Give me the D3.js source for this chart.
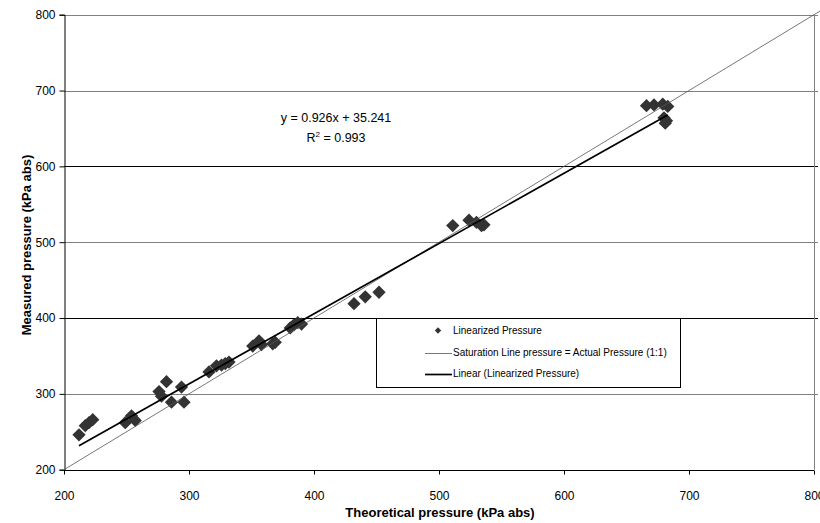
<!DOCTYPE html>
<html>
<head>
<meta charset="utf-8">
<script src="https://cdn.jsdelivr.net/npm/d3@7"></script>
<style>
  body { margin: 0; background: #fff; }
  svg text { font-family: "Liberation Sans", Arial, sans-serif; fill: #000; }
</style>
</head>
<body>
<div id="chart"></div>
<script>
// theoretical vs measured pressure (kPa abs)
var theoretical = [212, 217, 220, 223, 249, 254, 257, 276, 278, 282, 286, 294, 296,
  316, 322, 326, 329, 332, 351, 356, 358, 367, 369, 381, 384, 387, 390,
  432, 441, 452, 511, 524, 530, 534, 536, 666, 672, 679, 683, 680, 682, 681];
var measured = [246, 258, 262, 266, 262, 271, 265, 303, 297, 316, 289, 309, 289,
  329, 337, 338, 340, 342, 363, 370, 365, 366, 368, 387, 391, 394, 392,
  419, 428, 434, 522, 529, 526, 522, 523, 680, 681, 682, 679, 664, 660, 657];

var xTicks = [200, 300, 400, 500, 600, 700, 800];
var yTicks = [200, 300, 400, 500, 600, 700, 800];
var slope = 0.926, intercept = 35.241;
var legendLabels = ["Linearized Pressure",
  "Saturation Line pressure = Actual Pressure (1:1)",
  "Linear (Linearized Pressure)"];

var points = theoretical.map((t, i) => ({x: t, y: measured[i]}));

let svg = d3.select("#chart")
            .append("svg")
            .attr("width", 820)
            .attr("height", 523);

let x = d3.scaleLinear().domain([200, 800]).range([64, 814]);
let y = d3.scaleLinear().domain([200, 800]).range([469.7, 14.7]);

// horizontal gridlines (alternate grey/black like the original render)
svg.append("g")
  .selectAll("line")
  .data(yTicks.filter(d => d > 200))
  .enter()
  .append("line")
  .attr("x1", x(200))
  .attr("x2", 818)
  .attr("y1", d => Math.round(y(d)) + 0.5)
  .attr("y2", d => Math.round(y(d)) + 0.5)
  .style("stroke", d => (d === 400 || d === 600) ? "#000" : "#808080")
  .style("stroke-width", 1);

// right edge of plot area
svg.append("line")
  .attr("x1", x(800) + 0.5).attr("x2", x(800) + 0.5)
  .attr("y1", y(800)).attr("y2", y(200))
  .style("stroke", "#808080");

// axes
let xAxis = d3.axisBottom(x).tickValues(xTicks).tickSize(4).tickPadding(17);
let yAxis = d3.axisLeft(y).tickValues(yTicks).tickSize(5).tickPadding(4);

let gx = svg.append("g")
  .attr("transform", "translate(0," + (Math.round(y(200)) + 0.5) + ")")
  .call(xAxis);
gx.select(".domain").attr("d", "M" + x(200) + ",0H" + x(800));
gx.selectAll("text").style("font-size", "12px");

let gy = svg.append("g")
  .attr("transform", "translate(" + (x(200) + 0.5) + ",0)")
  .call(yAxis);
gy.selectAll("text").style("font-size", "12px");

svg.selectAll(".domain, .tick line").style("stroke", "#000");

// data points (diamonds)
let diamond = d3.symbol().type(d3.symbolSquare).size(88);
svg.append("g")
  .selectAll("path")
  .data(points)
  .enter()
  .append("path")
  .attr("d", diamond)
  .attr("transform", d => "translate(" + x(d.x) + "," + y(d.y) + ") rotate(45)")
  .style("fill", "#333");

// 1:1 saturation line
svg.append("line")
  .attr("x1", x(200)).attr("y1", y(200))
  .attr("x2", x(806)).attr("y2", y(806))
  .style("stroke", "#555")
  .style("stroke-width", 0.8);

// linear trendline
let xs = d3.extent(theoretical);
let line = d3.line().x(d => x(d)).y(d => y(slope * d + intercept));
svg.append("path")
  .datum(xs)
  .attr("d", line)
  .style("fill", "none")
  .style("stroke", "#000")
  .style("stroke-width", 1.7);

// equation
svg.append("text")
  .attr("x", 336)
  .attr("y", 121.5)
  .attr("text-anchor", "middle")
  .style("font-size", "12.5px")
  .text("y = " + slope + "x + " + intercept);
let r2 = svg.append("text")
  .attr("x", 336)
  .attr("y", 141.5)
  .attr("text-anchor", "middle")
  .style("font-size", "12.5px");
r2.append("tspan").text("R");
r2.append("tspan").attr("dy", -5).style("font-size", "8px").text("2");
r2.append("tspan").attr("dy", 5).text(" = 0.993");

// legend
let lg = svg.append("g").attr("transform", "translate(376,318)");
lg.append("rect")
  .attr("x", 0.5).attr("y", 0.5)
  .attr("width", 304).attr("height", 69)
  .style("fill", "#fff")
  .style("stroke", "#000");
lg.append("path")
  .attr("d", d3.symbol().type(d3.symbolSquare).size(20))
  .attr("transform", "translate(62,12.5) rotate(45)")
  .style("fill", "#333");
lg.append("line")
  .attr("x1", 49).attr("x2", 76).attr("y1", 35.5).attr("y2", 35.5)
  .style("stroke", "#555").style("stroke-width", 0.8);
lg.append("line")
  .attr("x1", 49).attr("x2", 76).attr("y1", 56.5).attr("y2", 56.5)
  .style("stroke", "#000").style("stroke-width", 1.7);
lg.selectAll("text.leg")
  .data(legendLabels)
  .enter()
  .append("text")
  .attr("class", "leg")
  .attr("x", 77)
  .attr("y", (d, i) => 16 + i * 21.5)
  .style("font-size", "10px")
  .text(d => d);

// axis titles
svg.append("text")
  .attr("x", 440)
  .attr("y", 517)
  .attr("text-anchor", "middle")
  .style("font-size", "13px")
  .style("font-weight", "bold")
  .text("Theoretical pressure (kPa abs)");

svg.append("text")
  .attr("transform", "translate(31,245) rotate(-90)")
  .attr("text-anchor", "middle")
  .style("font-size", "13px")
  .style("font-weight", "bold")
  .text("Measured pressure (kPa abs)");
</script>
</body>
</html>
